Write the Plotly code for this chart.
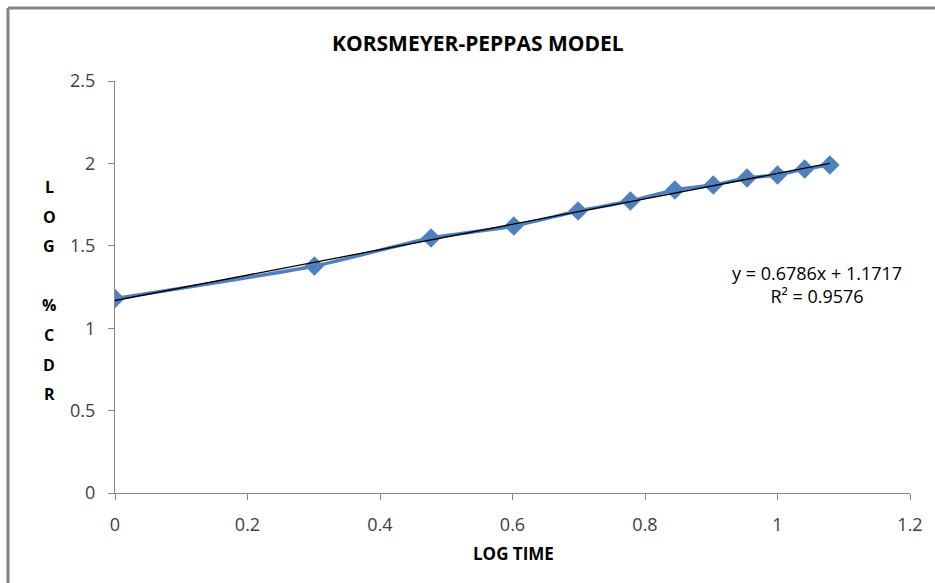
import plotly.graph_objects as go

log_time = [0, 0.301, 0.477, 0.602, 0.699, 0.778, 0.845, 0.903, 0.954, 1.0, 1.041, 1.079]
log_cdr = [1.18, 1.377, 1.547, 1.620, 1.711, 1.772, 1.839, 1.869, 1.911, 1.930, 1.966, 1.990]
# trendline as drawn in the picture (end points)
trend_x = [0, 1.079]
trend_y = [1.168, 2.0]
equation_text = "y = 0.6786x + 1.1717"
r2_text = "R² = 0.9576"
ylabel_letters = ["L", "O", "G", "", "%", "C", "D", "R"]

FONT = "Open Sans"
fig = go.Figure()
fig.add_trace(go.Scatter(
    x=log_time, y=log_cdr, mode="lines+markers",
    line=dict(color="#4F81BD", width=3.5, shape="spline", smoothing=0.6),
    marker=dict(symbol="diamond", size=15, color="#4F81BD"),
    showlegend=False, hoverinfo="x+y"))
fig.add_trace(go.Scatter(
    x=trend_x, y=trend_y, mode="lines",
    line=dict(color="#000000", width=1.3),
    showlegend=False))

L, R, T, B = 115, 25, 81, 90
W, H = 935, 583
pw, ph = W - L - R, H - T - B

annotations = [
    dict(text="<b>KORSMEYER-PEPPAS MODEL</b>", x=(478 - L) / pw, y=1 + (T - 43) / ph,
         xref="paper", yref="paper", showarrow=False, xanchor="center", yanchor="middle",
         font=dict(family=FONT, size=21, color="#000000")),
    dict(text="<b>LOG TIME</b>", x=(513 - L) / pw, y=-(553 - (H - B)) / ph,
         xref="paper", yref="paper", showarrow=False, xanchor="center", yanchor="middle",
         font=dict(family=FONT, size=17, color="#000000")),
    dict(text=f"{equation_text}<br>{r2_text}", x=(817 - L) / pw,
         y=1 - (284 - T) / ph, xref="paper", yref="paper", showarrow=False,
         xanchor="center", yanchor="middle", align="center",
         font=dict(family=FONT, size=18, color="#000000")),
]
for i, ch in enumerate(ylabel_letters):
    if not ch:
        continue
    ypix = 187 + i * 29.6
    annotations.append(dict(text=f"<b>{ch}</b>", x=(49 - L) / pw, y=1 - (ypix - T) / ph,
                            xref="paper", yref="paper", showarrow=False,
                            xanchor="center", yanchor="middle",
                            font=dict(family=FONT, size=16, color="#000000")))

axis_common = dict(showgrid=False, zeroline=False, showline=True, linecolor="#868686",
                   linewidth=1, ticks="outside", ticklen=6, tickcolor="#868686",
                   tickfont=dict(family=FONT, size=18, color="#404040"))

fig.update_layout(
    width=W, height=H, margin=dict(l=L, r=R, t=T, b=B),
    paper_bgcolor="white", plot_bgcolor="white",
    xaxis=dict(range=[0, 1.2], dtick=0.2, tick0=0, ticklabelstandoff=9, **axis_common),
    yaxis=dict(range=[0, 2.5], dtick=0.5, tick0=0, ticklabelstandoff=9, **axis_common),
    annotations=annotations,
    shapes=[
        dict(type="line", xref="paper", yref="paper",
             x0=(8 - L) / pw, x1=(8 - L) / pw, y0=1 + (T - 8) / ph, y1=-(H - (H - B) + 5) / ph,
             line=dict(color="#868686", width=3)),
        dict(type="line", xref="paper", yref="paper",
             x0=(8 - L) / pw, x1=(W + 5 - L) / pw, y0=1 + (T - 8) / ph, y1=1 + (T - 8) / ph,
             line=dict(color="#868686", width=3)),
    ],
)
fig.write_html("out.html")
